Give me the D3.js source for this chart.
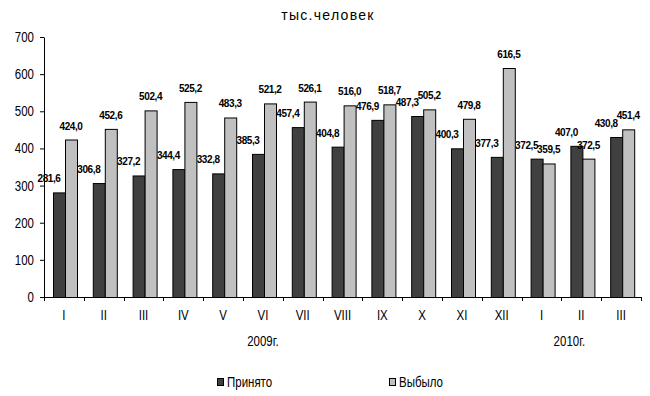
<!DOCTYPE html>
<html>
<head>
<meta charset="utf-8">
<script src="https://cdn.jsdelivr.net/npm/d3@7"></script>
<style>
  body { margin: 0; background: #fff; }
  svg text { font-family: "Liberation Sans", Arial, sans-serif; fill: #000; }
</style>
</head>
<body>
<div id="chart"></div>
<script>
// months of 2009 and first quarter of 2010
var months = ['I','II','III','IV','V','VI','VII','VIII','IX','X','XI','XII','I','II','III'];
var hired = [281.6, 306.8, 327.2, 344.4, 332.8, 385.3, 457.4, 404.8, 476.9, 487.3, 400.3, 377.3, 372.5, 407.0, 430.8];
var left  = [424.0, 452.6, 502.4, 525.2, 483.3, 521.2, 526.1, 516.0, 518.7, 505.2, 479.8, 616.5, 359.5, 372.5, 451.4];
var seriesNames = ['Принято', 'Выбыло'];
var yTicks = [0, 100, 200, 300, 400, 500, 600, 700];
var years = [{label: '2009г.', at: 5.5}, {label: '2010г.', at: 13.2}];

var w = 650, h = 396;
var svg = d3.select('#chart').append('svg').attr('width', w).attr('height', h);

var keys = months.map(function(d, i) { return i; });

var x = d3.scaleBand().domain(keys).range([44, 641]).padding(0);
var xs = d3.scaleBand().domain(seriesNames).range([9, 33]).padding(0);
var y = d3.scaleLinear().domain([0, 700]).range([297, 37]);
var colors = {'Принято': '#404040', 'Выбыло': '#c0c0c0'};

var fmt = function(v) { return d3.format('.1f')(v).replace('.', ','); };

// narrow text (no Arial Narrow here, so squeeze the regular face)
function narrow(sel, fx, fy, anchor) {
  return sel.attr('transform', function(d, i) {
      return 'translate(' + fx(d, i) + ',' + fy(d, i) + ') scale(0.82,1)';
    })
    .attr('text-anchor', anchor)
    .style('font-size', '14px');
}

// title
svg.append('text')
  .attr('x', 328).attr('y', 20)
  .attr('text-anchor', 'middle')
  .style('font-size', '14px')
  .style('letter-spacing', '1.3px')
  .text('тыс.человек');

// y axis
var yAxis = svg.append('g').attr('transform', 'translate(44,0)')
  .call(d3.axisLeft(y).tickValues(yTicks).tickSize(4).tickSizeOuter(0).tickFormat(''));
yAxis.select('.domain').attr('stroke', '#000');
yAxis.selectAll('.tick line').attr('stroke', '#000');

narrow(svg.selectAll('.ylab').data(yTicks).enter().append('text').attr('class', 'ylab'),
  function() { return 34; }, function(d) { return y(d) + 5; }, 'end')
  .text(function(d) { return d; });

// bars
var data = [hired, left];
var groups = svg.selectAll('.series')
  .data(seriesNames)
  .enter().append('g').attr('class', 'series');

groups.selectAll('rect')
  .data(function(name, si) { return data[si].map(function(v, i) { return {name: name, v: v, i: i}; }); })
  .enter().append('rect')
  .attr('x', function(d) { return x(d.i) + xs(d.name) + 0.5; })
  .attr('y', function(d) { return y(d.v) + 0.5; })
  .attr('width', xs.bandwidth())
  .attr('height', function(d) { return y(0) - y(d.v); })
  .attr('fill', function(d) { return colors[d.name]; })
  .attr('stroke', '#000')
  .attr('stroke-width', 1);

// value labels
groups.selectAll('.val')
  .data(function(name, si) { return data[si].map(function(v, i) { return {name: name, v: v, i: i}; }); })
  .enter().append('text').attr('class', 'val')
  .attr('x', function(d) {
    var c = x(d.i) + xs(d.name) + xs.bandwidth() / 2;
    return d.name === 'Принято' ? c - 10 : c;
  })
  .attr('y', function(d) { return y(d.v) - 10; })
  .attr('text-anchor', 'middle')
  .style('font-size', '10px')
  .style('font-weight', 'bold')
  .style('letter-spacing', '-0.4px')
  .text(function(d) { return fmt(d.v); });

// x axis
var xAxis = svg.append('g').attr('transform', 'translate(0,297)');
xAxis.append('line')
  .attr('x1', 40).attr('x2', 641).attr('y1', 0.5).attr('y2', 0.5)
  .attr('stroke', '#000');
xAxis.selectAll('.xt')
  .data(keys.concat([keys.length]))
  .enter().append('line')
  .attr('x1', function(d) { return Math.round(44 + d * x.step()) + 0.5; })
  .attr('x2', function(d) { return Math.round(44 + d * x.step()) + 0.5; })
  .attr('y1', 0).attr('y2', 4)
  .attr('stroke', '#000');
narrow(xAxis.selectAll('.xl').data(keys).enter().append('text'),
  function(d) { return x(d) + x.bandwidth() / 2; }, function() { return 23; }, 'middle')
  .text(function(d) { return months[d]; });

// year labels
narrow(svg.selectAll('.year').data(years).enter().append('text'),
  function(d) { return 44 + d.at * x.step(); }, function() { return 346; }, 'middle')
  .text(function(d) { return d.label; });

// legend
var legendX = [217, 389];
var legend = svg.selectAll('.legend')
  .data(seriesNames)
  .enter().append('g')
  .attr('transform', function(d, i) { return 'translate(' + legendX[i] + ',378)'; });
legend.append('rect')
  .attr('x', 0.5).attr('y', 0.5)
  .attr('width', 6).attr('height', 7)
  .attr('fill', function(d) { return colors[d]; })
  .attr('stroke', '#000');
narrow(legend.append('text'), function() { return 10; }, function() { return 9; }, 'start')
  .text(function(d) { return d; });
</script>
</body>
</html>
